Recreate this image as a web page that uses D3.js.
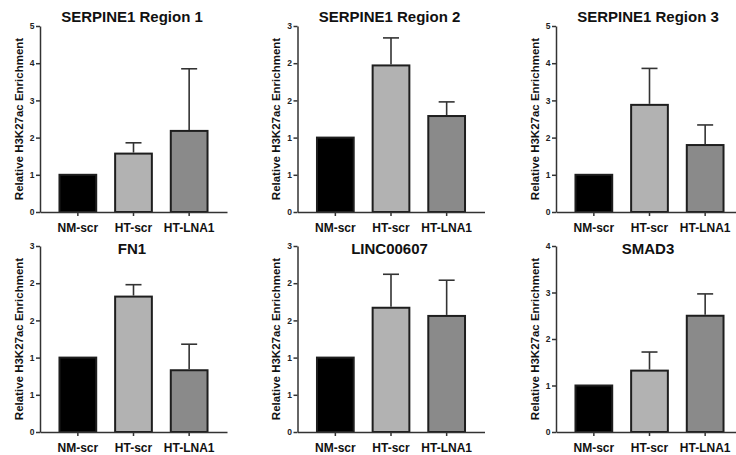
<!DOCTYPE html>
<html>
<head>
<meta charset="utf-8">
<script src="https://cdn.jsdelivr.net/npm/d3@7"></script>
<style>
  body { margin: 0; background: #fff; }
  text { font-family: "Liberation Sans", Arial, sans-serif; font-weight: bold; }
</style>
</head>
<body>
<script>
// Data
const groups = ['NM-scr', 'HT-scr', 'HT-LNA1']
const titles = ['SERPINE1 Region 1', 'SERPINE1 Region 2', 'SERPINE1 Region 3', 'FN1', 'LINC00607', 'SMAD3']

const region1Mean = [1, 1.57, 2.18]
const region1Err = [0, 0.29, 1.67]
const region2Mean = [1, 1.97, 1.29]
const region2Err = [0, 0.37, 0.19]
const region3Mean = [1, 2.88, 1.80]
const region3Err = [0, 0.98, 0.54]
const fn1Mean = [1, 1.82, 0.83]
const fn1Err = [0, 0.16, 0.35]
const lincMean = [1, 1.67, 1.56]
const lincErr = [0, 0.45, 0.48]
const smad3Mean = [1, 1.32, 2.50]
const smad3Err = [0, 0.40, 0.47]

const yMax = [5, 2.5, 5, 2.5, 2.5, 4]
const yStep = [1, 0.5, 1, 0.5, 0.5, 1]
const ticks5 = ['0', '1', '2', '3', '4', '5']
const ticksHalf = ['0', '1', '1', '2', '2', '3']
const ticks4 = ['0', '1', '2', '3', '4']

const means = [region1Mean, region2Mean, region3Mean, fn1Mean, lincMean, smad3Mean]
const errs = [region1Err, region2Err, region3Err, fn1Err, lincErr, smad3Err]
const tickLabels = [ticks5, ticksHalf, ticks5, ticksHalf, ticksHalf, ticks4]

const colors = ['#000000', '#b2b2b2', '#8a8a8a']

// Layout
const width = 736
const height = 455
const axisX = [40, 297.5, 556]
const rowTop = [26, 246]
const rowBottom = [212, 432]
const titleY = [22, 254]
const plotW = 187

const svg = d3.select('body')
  .append('svg')
  .attr('width', width)
  .attr('height', height)

function drawPanel (i) {
  const col = i % 3
  const row = Math.floor(i / 3)
  const x0 = axisX[col]
  const y0 = rowBottom[row]
  const yTop = rowTop[row]

  const g = svg.append('g')

  const x = d3.scaleBand()
    .domain(groups)
    .range([x0, x0 + plotW])
    .paddingInner(0.34)
    .paddingOuter(0.35)

  const y = d3.scaleLinear()
    .domain([0, yMax[i]])
    .range([y0, yTop])

  const tv = d3.range(0, yMax[i] + yStep[i] / 2, yStep[i])
  const labels = tickLabels[i]

  // bars
  g.selectAll('rect')
    .data(groups)
    .join('rect')
    .attr('x', d => x(d))
    .attr('y', (d, j) => y(means[i][j]))
    .attr('width', x.bandwidth())
    .attr('height', (d, j) => y(0) - y(means[i][j]))
    .attr('fill', (d, j) => colors[j])
    .attr('stroke', '#1e1e1e')
    .attr('stroke-width', 2)

  // error bars (upper only)
  groups.forEach((d, j) => {
    const e = errs[i][j]
    if (!e) return
    const cx = x(d) + x.bandwidth() / 2
    g.append('line')
      .attr('x1', cx).attr('x2', cx)
      .attr('y1', y(means[i][j]) - 1)
      .attr('y2', y(means[i][j] + e))
      .attr('stroke', '#333').attr('stroke-width', 1.6)
    g.append('line')
      .attr('x1', cx - 8).attr('x2', cx + 8)
      .attr('y1', y(means[i][j] + e))
      .attr('y2', y(means[i][j] + e))
      .attr('stroke', '#333').attr('stroke-width', 1.6)
  })

  // y axis
  const ya = g.append('g')
    .attr('transform', `translate(${x0},0)`)
    .call(d3.axisLeft(y)
      .tickValues(tv)
      .tickFormat((d, k) => labels[k])
      .tickSize(4)
      .tickSizeOuter(0)
      .tickPadding(1.5))
  ya.selectAll('text').style('font-size', '8.5px').attr('fill', '#222')

  // x axis
  const xa = g.append('g')
    .attr('transform', `translate(0,${y0})`)
    .call(d3.axisBottom(x).tickSize(4).tickSizeOuter(0).tickPadding(7))
  xa.selectAll('text').style('font-size', '12px').attr('fill', '#111')

  g.selectAll('.domain, .tick line').attr('stroke', '#333').attr('stroke-width', 1.5)

  // title
  g.append('text')
    .attr('x', x0 + 92)
    .attr('y', titleY[row])
    .attr('text-anchor', 'middle')
    .style('font-size', '15px')
    .attr('fill', '#111')
    .text(titles[i])

  // y label
  g.append('text')
    .attr('transform', `translate(${x0 - 21.5},${(y0 + yTop) / 2}) rotate(-90)`)
    .attr('text-anchor', 'middle')
    .attr('dy', '0.35em')
    .style('font-size', '11.5px')
    .attr('fill', '#111')
    .text('Relative H3K27ac Enrichment')
}

for (let i = 0; i < 6; i++) drawPanel(i)
</script>
</body>
</html>
